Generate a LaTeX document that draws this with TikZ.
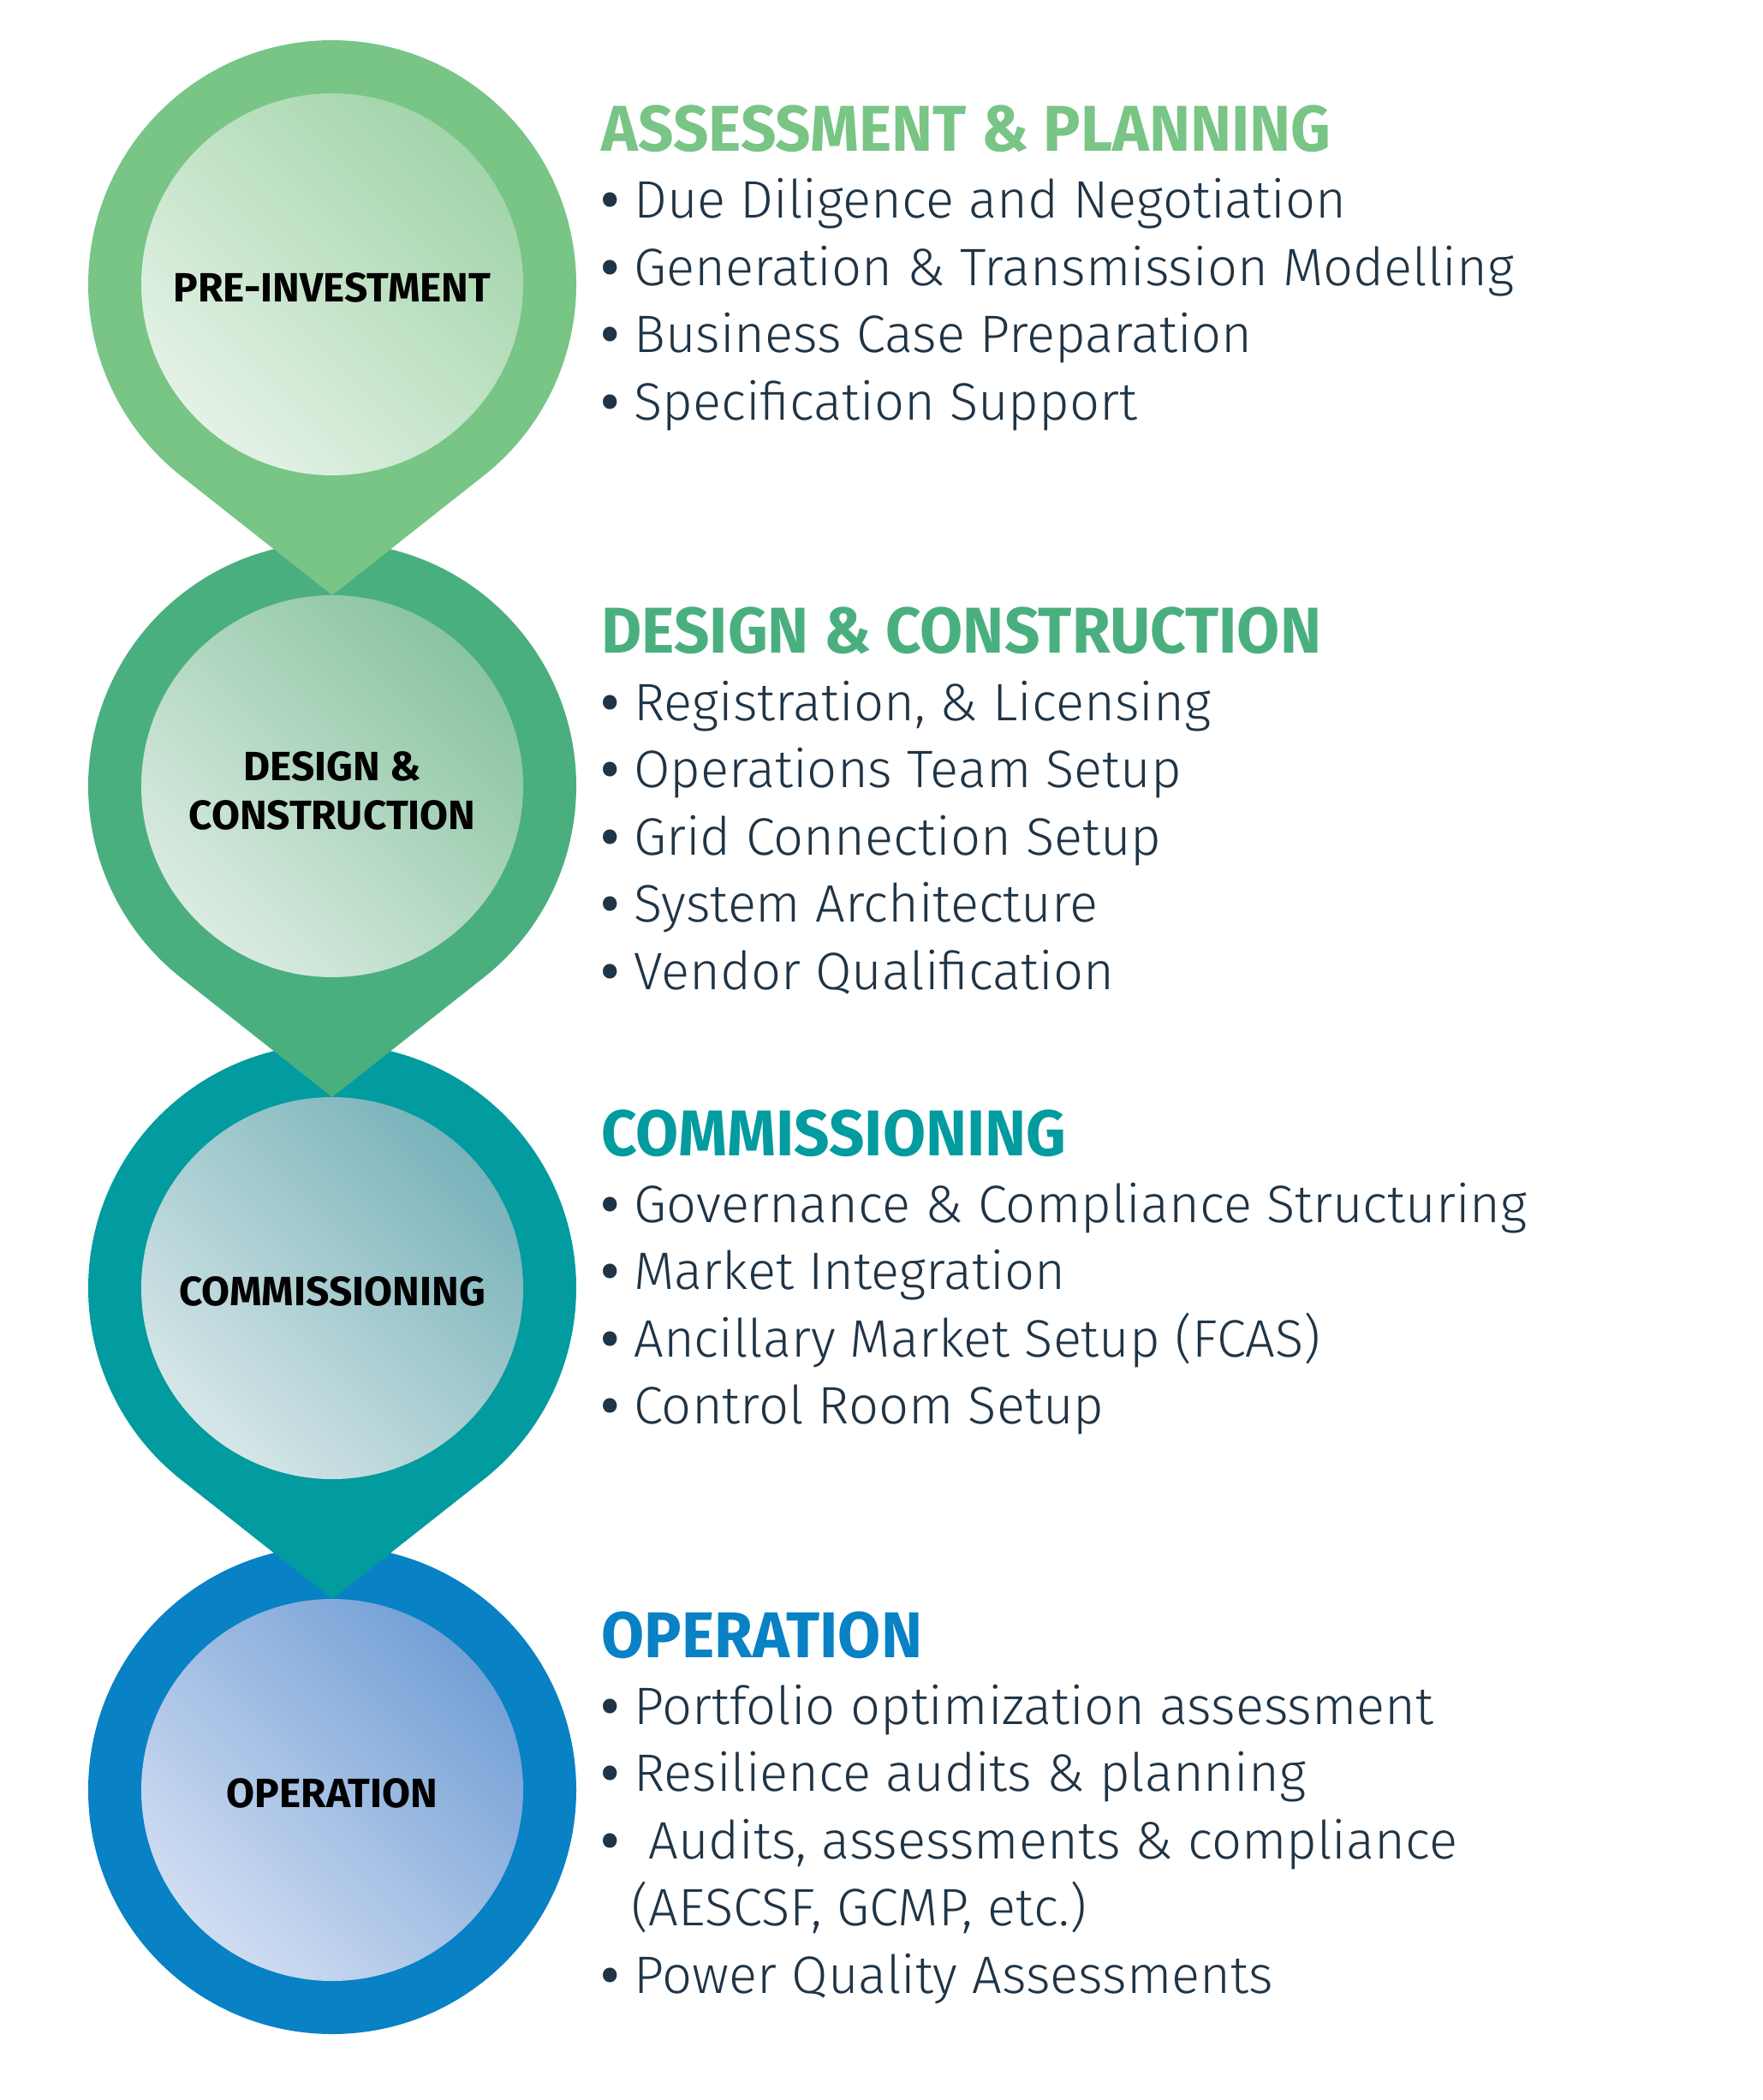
\documentclass[tikz,border=0pt]{standalone}
\usepackage{fontspec}
\setmainfont{Fira Sans}
\newfontfamily\bodyfont{Fira Sans Light}
\newfontfamily\headfont{Fira Sans}[FakeStretch=0.96]
\usetikzlibrary{calc,positioning}
\definecolor{stageA}{HTML}{78C585}
\definecolor{stageB}{HTML}{4AAF7F}
\definecolor{stageC}{HTML}{029B9F}
\definecolor{stageD}{HTML}{0881C5}
\definecolor{discAlight}{HTML}{E4F2E6}
\definecolor{discAdark}{HTML}{A2D4AA}
\definecolor{discBlight}{HTML}{DAEBE1}
\definecolor{discBdark}{HTML}{8AC4A1}
\definecolor{discClight}{HTML}{D6E6E8}
\definecolor{discCdark}{HTML}{79B3BA}
\definecolor{discDlight}{HTML}{D0DDF2}
\definecolor{discDdark}{HTML}{74A0D5}
\definecolor{itemtext}{HTML}{1F3446}
\newcommand{\itemdot}{{\headfont\bfseries •}}
\tikzset{
    inner disc/.style 2 args={
        circle,inner sep=0pt,
        minimum size=4.46cm,
        top color=#1,bottom color=#2,
        shading angle=-45,
        align=center,text=black,
        text height=0.42cm,
        font=\bfseries\fontsize{13.6}{16}\selectfont
    },
    stage head/.style={
        anchor=base west,inner sep=0pt,
        font=\headfont\bfseries\fontsize{21.5}{24}\selectfont
    },
    stage item/.style={
        anchor=base west,inner sep=0pt,text=itemtext,
        font=\bodyfont\fontsize{17.5}{21}\selectfont
    }
}

\begin{document}
\begin{tikzpicture}
\fill[white] (0,0) rectangle (20.58,-24.52);
\useasboundingbox (0,0) rectangle (20.58,-24.52);
% pins, bottom one first so each tip lies on the ring below
\coordinate (c3) at (3.88,-20.90);
\fill[stageD] (c3) circle[radius=2.85cm];
\foreach \i/\col in {2/stageC,1/stageB,0/stageA} {
    \coordinate (c\i) at (3.88,{-3.32-5.86*\i});
    \fill[\col] (c\i) ++(-51.7:2.85cm) arc[start angle=-51.7,end angle=231.7,radius=2.85cm]
        -- ($(c\i)+(0,-3.63)$) -- cycle;
}
\node[inner disc={discAdark}{discAlight}] (preinv) at (c0) {PRE-INVESTMENT};
\node[inner disc={discBdark}{discBlight},text height=1.01cm] (design) at (c1) {DESIGN \&\\CONSTRUCTION};
\node[inner disc={discCdark}{discClight}] (commis) at (c2) {COMMISSIONING};
\node[inner disc={discDdark}{discDlight}] (operat) at (c3) {OPERATION};

% text blocks
\node[stage head,text=stageA] (headA) at (7.02,-1.77) {ASSESSMENT \& PLANNING};
\foreach \txt [count=\j from 0] in {Due Diligence and Negotiation,Generation \& Transmission Modelling,Business Case Preparation,Specification Support}
    \node[stage item] (itemA\j) at (7.02,{-2.55-0.785*\j}) {\itemdot\ \txt};

\node[stage head,text=stageB] (headB) at (7.02,-7.63) {DESIGN \& CONSTRUCTION};
\foreach \txt [count=\j from 0] in {{Registration, \& Licensing},Operations Team Setup,Grid Connection Setup,System Architecture,Vendor Qualification}
    \node[stage item] (itemB\j) at (7.02,{-8.41-0.785*\j}) {\itemdot\ \txt};

\node[stage head,text=stageC] (headC) at (7.02,-13.49) {COMMISSIONING};
\foreach \txt [count=\j from 0] in {Governance \& Compliance Structuring,Market Integration,Ancillary Market Setup (FCAS),Control Room Setup}
    \node[stage item] (itemC\j) at (7.02,{-14.27-0.785*\j}) {\itemdot\ \txt};

\node[stage head,text=stageD] (headD) at (7.02,-19.35) {OPERATION};
\foreach \txt [count=\j from 0] in {Portfolio optimization assessment,Resilience audits \& planning}
    \node[stage item] (itemD\j) at (7.02,{-20.13-0.785*\j}) {\itemdot\ \txt};
\node[stage item] (itemD2) at (7.02,-21.70) {\itemdot\ \ Audits, assessments \& compliance};
\node[stage item] (itemD3) at (7.37,-22.485) {(AESCSF, GCMP, etc.)};
\node[stage item] (itemD4) at (7.02,-23.27) {\itemdot\ Power Quality Assessments};
\end{tikzpicture}
\end{document}
